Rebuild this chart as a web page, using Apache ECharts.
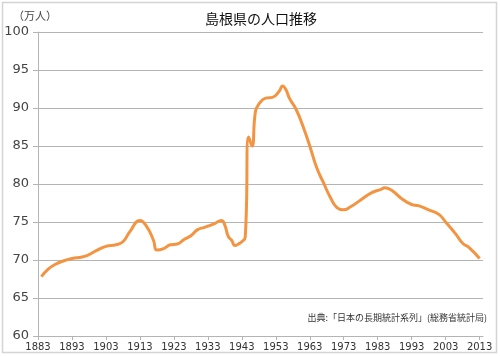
<!DOCTYPE html>
<html>
<head>
<meta charset="utf-8">
<script src="https://cdn.jsdelivr.net/npm/echarts@6/dist/echarts.min.js"></script>
<style>
html,body{margin:0;padding:0;background:#fff;}
#c{width:500px;height:356px;}
</style>
</head>
<body>
<div id="c"></div>
<script>
const years = [1884,1886,1888,1890,1893,1896,1898,1900,1903,1906,1908,1910,1913,1915,1917,1918,1920,1922,1924,1926,1928,1930,1932,1935,1937,1938,1939,1940,1941,1942,1943,1944,1945,1946,1947,1948,1950,1952,1954,1955,1956,1957,1959,1961,1963,1965,1967,1969,1971,1973,1975,1978,1981,1984,1985,1987,1990,1993,1995,1998,2001,2003,2006,2008,2010,2013];
const population = [67.8,68.8,69.4,69.8,70.2,70.4,70.7,71.2,71.8,72.0,72.4,73.7,75.2,74.4,72.6,71.3,71.5,72.0,72.1,72.7,73.2,74.0,74.3,74.8,75.2,74.6,73.1,72.6,71.9,72.1,72.4,73.0,86.2,85.0,89.5,90.5,91.3,91.4,92.2,92.9,92.4,91.3,89.8,87.6,85.0,82.2,80.2,78.3,76.9,76.6,77.0,77.9,78.8,79.3,79.5,79.2,78.1,77.3,77.15,76.6,76.0,75.0,73.4,72.2,71.6,70.2];
const titleText = '島根県の人口推移';
const unitText = '（万人）';
const sourceText = '出典:「日本の長期統計系列」(総務省統計局)';

const chart = echarts.init(document.getElementById('c'), null, {renderer:'canvas'});
const font = '"Noto Sans CJK JP", "Noto Sans", sans-serif';
const gridColor = '#b4b4b4';
chart.setOption({
  animation:false,
  backgroundColor:'#fff',
  title:{text:titleText,left:256,top:7,textAlign:'center',
    textStyle:{fontFamily:font,fontSize:14,fontWeight:'normal',color:'#111'}},
  graphic:[
    {type:'rect',shape:{x:2.5,y:2.5,width:494,height:350},style:{fill:'none',stroke:'#d4d4d4',lineWidth:1.5},silent:true,z:-1},
    {type:'text',left:13,top:10,style:{text:unitText,font:'11px '+font,fill:'#444'}},
    {type:'text',right:13,top:313,style:{text:sourceText,font:'9px '+font,fill:'#333'}}
  ],
  grid:{left:38,right:17,top:32,bottom:20},
  xAxis:{type:'value',min:1883,max:2014,interval:10,
    axisLine:{show:true,onZero:false,lineStyle:{color:gridColor}},
    axisTick:{show:true,length:4,lineStyle:{color:gridColor}},
    axisLabel:{fontFamily:'"DejaVu Sans", sans-serif',fontSize:10,color:'#333',margin:6,showMaxLabel:false,
      formatter:v=> (v-1883)%10===0 ? String(v) : ''},
    splitLine:{show:false}},
  yAxis:{type:'value',min:60,max:100,interval:5,
    axisLine:{show:true,lineStyle:{color:gridColor}},
    axisTick:{show:true,length:5,lineStyle:{color:gridColor}},
    axisLabel:{fontFamily:'"DejaVu Sans", sans-serif',fontSize:13,color:'#444',margin:9},
    splitLine:{show:true,lineStyle:{color:gridColor,width:1}}},
  series:[{type:'line',data:years.map((y,i)=>[y,population[i]]),
    showSymbol:false,smooth:0.5,
    lineStyle:{color:'#F39442',width:3},itemStyle:{color:'#F39442'}}]
});
</script>
</body>
</html>
